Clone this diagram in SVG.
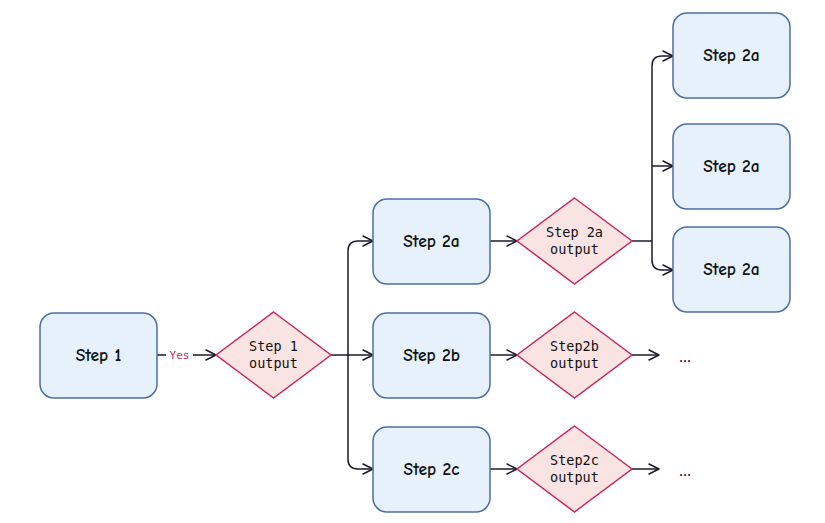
<svg xmlns="http://www.w3.org/2000/svg" width="825" height="523" viewBox="0 0 825 523">
<defs>
<marker id="arr" viewBox="0 0 12 12" refX="11" refY="6" markerWidth="12" markerHeight="12" markerUnits="userSpaceOnUse" orient="auto">
<path d="M1,1 L11,6 L1,11" fill="none" stroke="#1a1a2e" stroke-width="1.5" stroke-linejoin="round" stroke-linecap="round"/>
</marker>
<style>
.box{fill:#e6f1fc;stroke:#4c6fa3;stroke-width:1.5}
.dia{fill:#fae3e3;stroke:#c72a5e;stroke-width:1.5}
.bt{font-family:"Comic Neue","Noto Sans","DejaVu Sans",sans-serif;font-size:17.5px;font-weight:bold;fill:#111;text-anchor:middle}
.dt{font-family:"DejaVu Sans Mono","Liberation Mono",monospace;font-size:13.5px;fill:#111;text-anchor:middle}
.ln{fill:none;stroke:#1a1a2e;stroke-width:1.5}
.lbl{font-family:"DejaVu Sans Mono","Liberation Mono",monospace;font-size:11px;fill:#c72a5e}
.dots{font-family:"Noto Sans",sans-serif;font-size:15px;fill:#111}
</style>
</defs>
<rect width="825" height="523" fill="#ffffff"/>
<g id="connectors">
<path class="ln" d="M157,355 H166"/>
<path class="ln" d="M193,355 H216" marker-end="url(#arr)"/>
<text class="lbl" x="179.5" y="359" text-anchor="middle">Yes</text>
<path class="ln" d="M331,355 H373" marker-end="url(#arr)"/>
<path class="ln" d="M348,355 V251 Q348,241 358,241 H373" marker-end="url(#arr)"/>
<path class="ln" d="M348,355 V459 Q348,469 358,469 H373" marker-end="url(#arr)"/>
<path class="ln" d="M490,241 H517" marker-end="url(#arr)"/>
<path class="ln" d="M490,355 H517" marker-end="url(#arr)"/>
<path class="ln" d="M490,469 H517" marker-end="url(#arr)"/>
<path class="ln" d="M632,241 H652"/>
<path class="ln" d="M652,241 V66 Q652,56 662,56 H673" marker-end="url(#arr)"/>
<path class="ln" d="M652,166 H673" marker-end="url(#arr)"/>
<path class="ln" d="M652,241 V260 Q652,270 662,270 H673" marker-end="url(#arr)"/>
<path class="ln" d="M632,355 H659" marker-end="url(#arr)"/>
<path class="ln" d="M632,469 H659" marker-end="url(#arr)"/>
</g>
<g id="step1"><rect class="box" x="40" y="313" width="117" height="85" rx="14"/><text class="bt" x="98.5" y="361">Step 1</text></g>
<g id="step1out"><path class="dia" d="M273.5,312 L331,355 L273.5,398 L216,355 Z"/><text class="dt" x="273.5" y="351">Step 1</text><text class="dt" x="273.5" y="368">output</text></g>
<g id="step2a"><rect class="box" x="373" y="199" width="117" height="85" rx="14"/><text class="bt" x="431.5" y="247">Step 2a</text></g>
<g id="step2b"><rect class="box" x="373" y="313" width="117" height="85" rx="14"/><text class="bt" x="431.5" y="361">Step 2b</text></g>
<g id="step2c"><rect class="box" x="373" y="427" width="117" height="85" rx="14"/><text class="bt" x="431.5" y="475">Step 2c</text></g>
<g id="step2aout"><path class="dia" d="M574.5,198 L632,241 L574.5,284 L517,241 Z"/><text class="dt" x="574.5" y="237">Step 2a</text><text class="dt" x="574.5" y="254">output</text></g>
<g id="step2bout"><path class="dia" d="M574.5,312 L632,355 L574.5,398 L517,355 Z"/><text class="dt" x="574.5" y="351">Step2b</text><text class="dt" x="574.5" y="368">output</text></g>
<g id="step2cout"><path class="dia" d="M574.5,426 L632,469 L574.5,512 L517,469 Z"/><text class="dt" x="574.5" y="465">Step2c</text><text class="dt" x="574.5" y="482">output</text></g>
<g id="r1"><rect class="box" x="673" y="13" width="117" height="85" rx="14"/><text class="bt" x="731.5" y="61">Step 2a</text></g>
<g id="r2"><rect class="box" x="673" y="124" width="117" height="85" rx="14"/><text class="bt" x="731.5" y="172">Step 2a</text></g>
<g id="r3"><rect class="box" x="673" y="227" width="117" height="85" rx="14"/><text class="bt" x="731.5" y="275">Step 2a</text></g>
<g id="dots"><text class="dots" x="679" y="362">...</text><text class="dots" x="679" y="476">...</text></g>
</svg>
